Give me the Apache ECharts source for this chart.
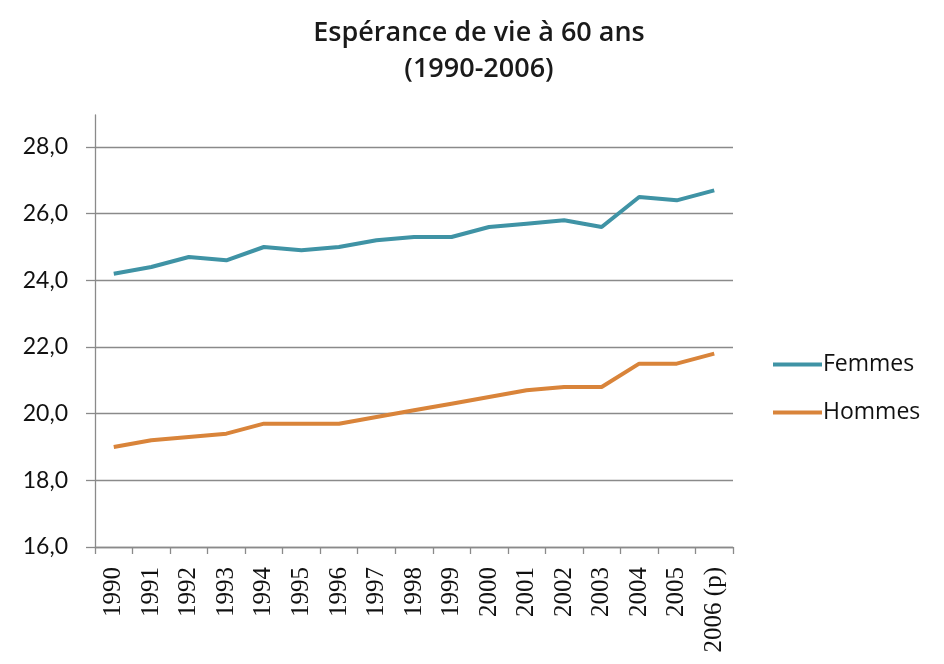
<!DOCTYPE html>
<html>
<head>
<meta charset="utf-8">
<script src="https://cdn.jsdelivr.net/npm/echarts@6/dist/echarts.min.js"></script>
<style>
html,body{margin:0;padding:0;background:#fff;}
#chart{width:944px;height:664px;}
</style>
</head>
<body>
<div id="chart"></div>
<script>
const titleLines = ['Espérance de vie à 60 ans', '(1990-2006)'];
const years = ['1990','1991','1992','1993','1994','1995','1996','1997','1998','1999','2000','2001','2002','2003','2004','2005','2006 (p)'];
const femmes = [24.2,24.4,24.7,24.6,25.0,24.9,25.0,25.2,25.3,25.3,25.6,25.7,25.8,25.6,26.5,26.4,26.7];
const hommes = [19.0,19.2,19.3,19.4,19.7,19.7,19.7,19.9,20.1,20.3,20.5,20.7,20.8,20.8,21.5,21.5,21.8];
const seriesNames = ['Femmes','Hommes'];
const yMin = 16, yMax = 28, yStep = 2;

const chart = echarts.init(document.getElementById('chart'));
const axisGray = '#8a8a8a';
chart.setOption({
  animation: false,
  backgroundColor: '#ffffff',
  title: {
    text: titleLines.join('\n'),
    left: 474, top: 10, textAlign: 'center',
    textStyle: { fontFamily: 'Open Sans', fontWeight: 600, fontSize: 27, color: '#1a1a1a', lineHeight: 36 }
  },
  legend: {
    orient: 'vertical', left: 773, top: 353, padding: 0,
    itemWidth: 49, itemHeight: 4, itemGap: 25, icon: 'rect',
    textStyle: { fontFamily: 'Open Sans', fontSize: 23, color: '#111', padding: [0,0,0,-4] },
    data: seriesNames
  },
  grid: [
    { left: 95, right: 211, top: 147, bottom: 117 },
    { left: 95, right: 211, top: 115, height: 32 }
  ],
  xAxis: [{
    type: 'category', data: years, boundaryGap: true, gridIndex: 0,
    axisLine: { lineStyle: { color: axisGray, width: 1.3 } },
    axisTick: { show: true, length: 7, alignWithLabel: false, lineStyle: { color: axisGray, width: 1.3 } },
    axisLabel: { rotate: 90, margin: 20, interval: 0, fontFamily: 'Liberation Serif', fontSize: 25, color: '#111' }
  }, {
    type: 'value', gridIndex: 1, show: false, min: 0, max: 1
  }],
  yAxis: [{
    type: 'value', min: yMin, max: yMax, interval: yStep, gridIndex: 0,
    axisLine: { show: true, lineStyle: { color: axisGray, width: 1.3 } },
    axisTick: { show: true, length: 9, lineStyle: { color: axisGray, width: 1.3 } },
    splitLine: { show: true, lineStyle: { color: axisGray, width: 1.3 } },
    axisLabel: { margin: 27, fontFamily: 'Lato', fontSize: 23, color: '#111',
      formatter: v => v.toFixed(1).replace('.', ',') }
  }, {
    type: 'value', gridIndex: 1, min: 0, max: 1,
    axisLine: { show: true, lineStyle: { color: axisGray, width: 1.3 } },
    axisTick: { show: false }, axisLabel: { show: false }, splitLine: { show: false }
  }],
  series: [
    { name: seriesNames[0], type: 'line', data: femmes, xAxisIndex: 0, yAxisIndex: 0,
      symbol: 'none', color: '#3f93a5', lineStyle: { width: 4, color: '#3f93a5' } },
    { name: seriesNames[1], type: 'line', data: hommes, xAxisIndex: 0, yAxisIndex: 0,
      symbol: 'none', color: '#d9843a', lineStyle: { width: 4, color: '#d9843a' } }
  ]
});
</script>
</body>
</html>
